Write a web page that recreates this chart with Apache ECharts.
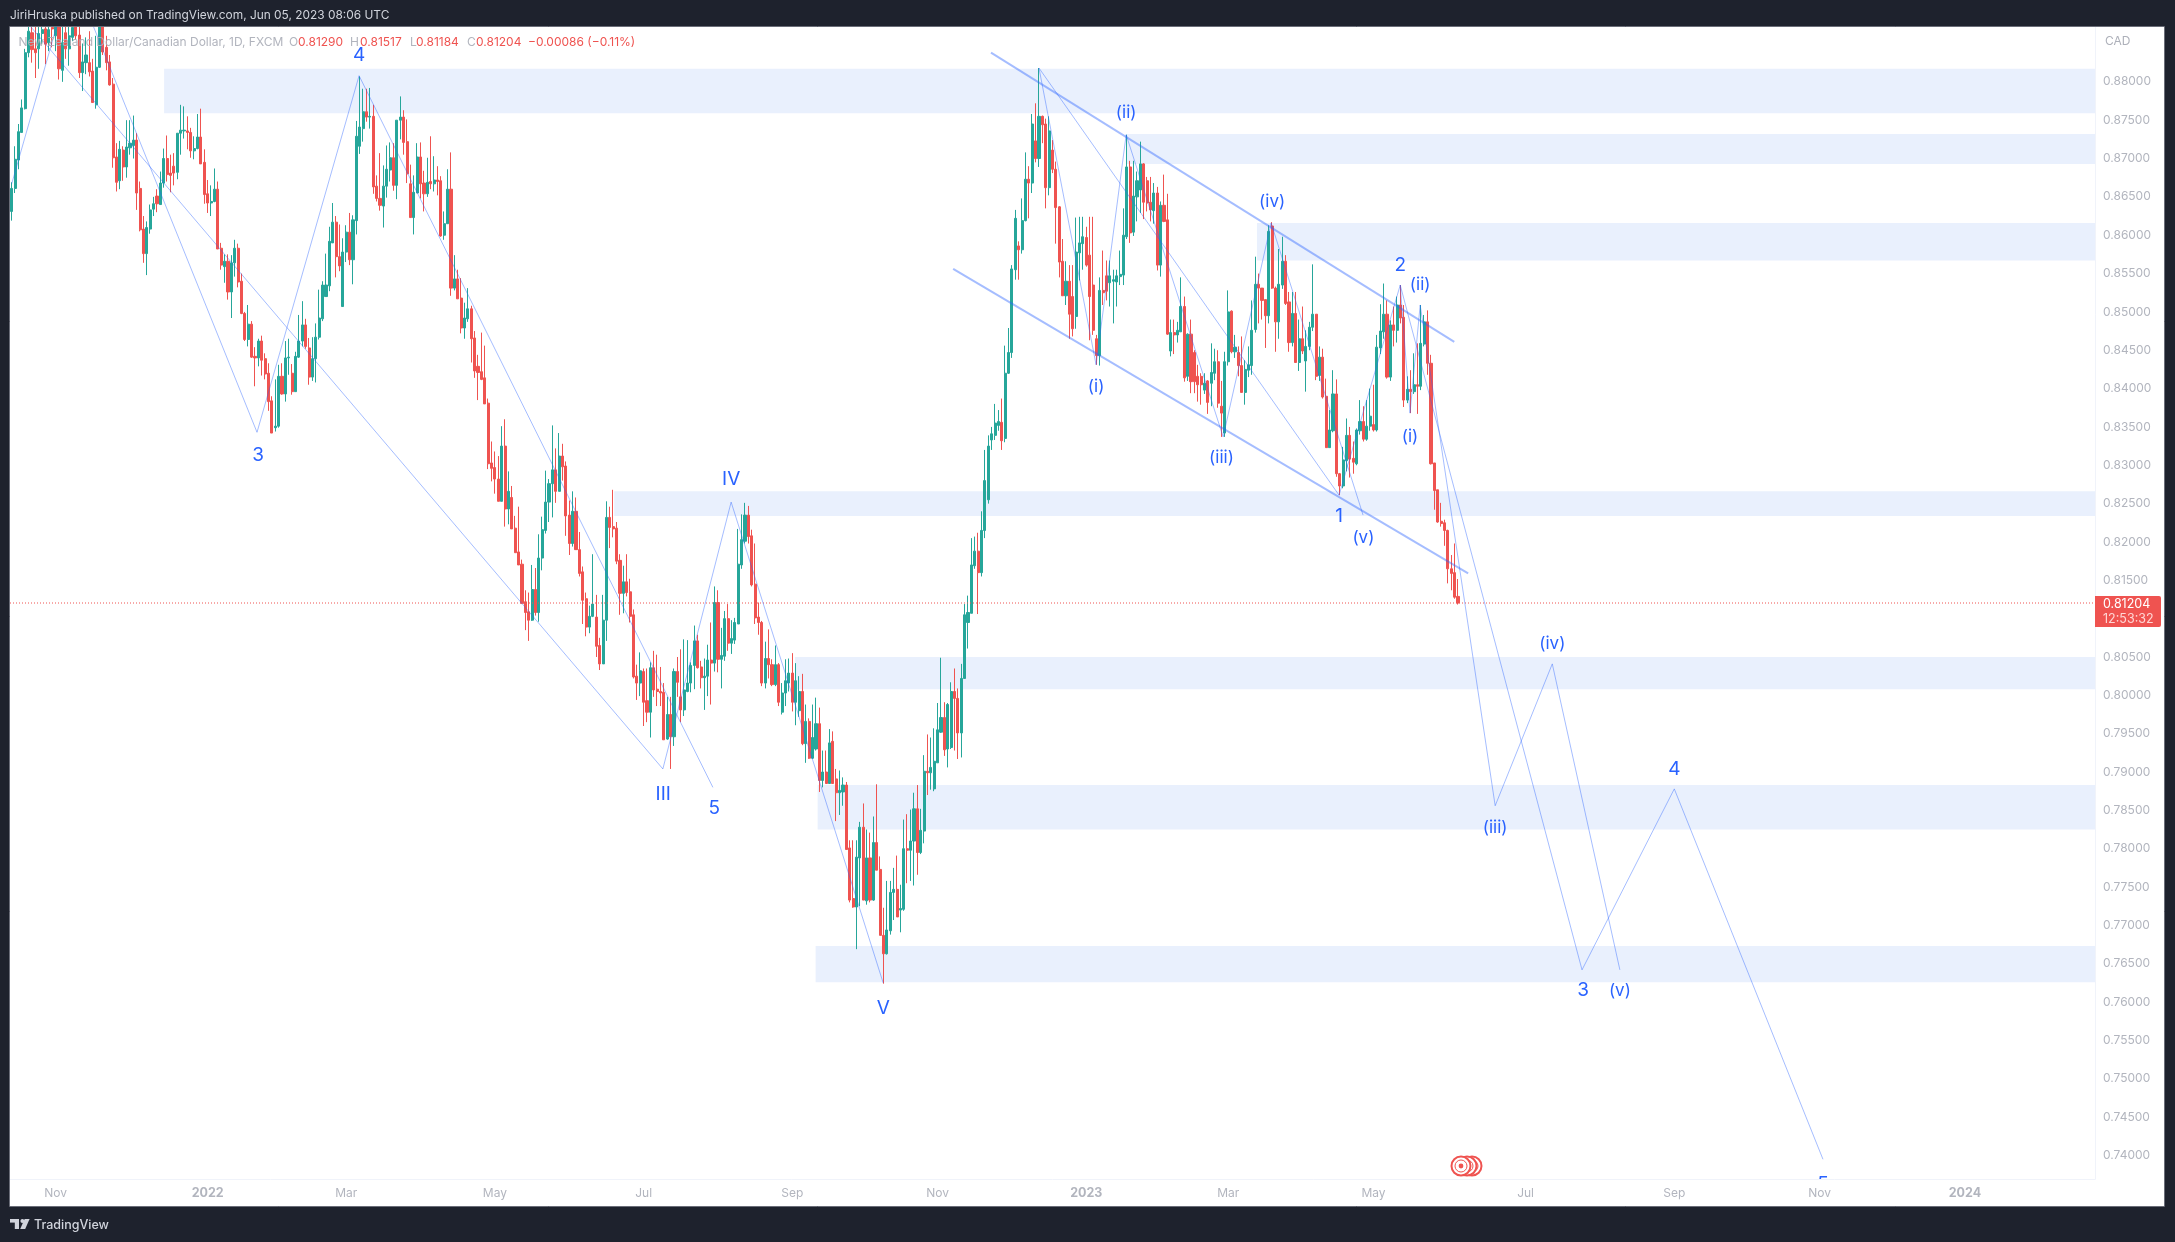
<!DOCTYPE html>
<html><head><meta charset="utf-8">
<style>html,body{margin:0;padding:0;background:#1e222d}#c{width:2175px;height:1242px}</style>
<script src="https://cdn.jsdelivr.net/npm/echarts@6/dist/echarts.min.js"></script>
</head><body><div id="c"></div>
<script>
// daily candles, oldest first: [open, high, low, close]
const ohlc = [
[.8631,.8669,.8619,.8661],[.8661,.8716,.8655,.8699],[.8698,.8745,.8686,.8735],[.8734,.8777,.8734,.8766],[.8765,.8843,.8764,.8838],
[.8838,.8880,.8832,.8866],[.8864,.8882,.8825,.8842],[.8843,.8875,.8805,.8838],[.8843,.8885,.8817,.8863],[.8863,.8878,.8849,.8868],
[.8869,.8882,.8823,.8849],[.8851,.8880,.8840,.8868],[.8871,.8885,.8845,.8869],[.8860,.8885,.8840,.8875],[.8878,.8885,.8803,.8817],
[.8815,.8875,.8800,.8851],[.8864,.8880,.8830,.8843],[.8843,.8880,.8821,.8860],[.8858,.8885,.8853,.8871],[.8875,.8885,.8855,.8860],
[.8861,.8880,.8805,.8812],[.8812,.8850,.8788,.8826],[.8825,.8858,.8810,.8835],[.8825,.8866,.8807,.8813],[.8814,.8830,.8773,.8773],
[.8770,.8860,.8765,.8819],[.8819,.8890,.8818,.8880],[.8880,.8890,.8835,.8839],[.8845,.8860,.8815,.8825],[.8826,.8835,.8795,.8796],
[.8797,.8805,.8688,.8701],[.8702,.8720,.8657,.8669],[.8671,.8723,.8660,.8712],[.8711,.8716,.8671,.8689],[.8689,.8750,.8675,.8715],
[.8714,.8750,.8705,.8720],[.8717,.8756,.8700,.8724],[.8724,.8733,.8633,.8655],[.8661,.8670,.8605,.8607],[.8608,.8625,.8564,.8576],
[.8576,.8618,.8548,.8610],[.8608,.8640,.8602,.8633],[.8634,.8650,.8625,.8641],[.8651,.8660,.8630,.8641],[.8640,.8683,.8640,.8668],
[.8668,.8713,.8662,.8700],[.8700,.8730,.8670,.8679],[.8681,.8705,.8656,.8678],[.8690,.8707,.8665,.8681],[.8682,.8733,.8673,.8733],
[.8733,.8770,.8705,.8737],[.8736,.8768,.8726,.8737],[.8736,.8755,.8712,.8734],[.8734,.8740,.8701,.8710],[.8710,.8729,.8699,.8713],
[.8713,.8758,.8712,.8728],[.8728,.8765,.8693,.8693],[.8695,.8712,.8641,.8653],[.8654,.8672,.8629,.8642],[.8642,.8665,.8625,.8644],
[.8644,.8687,.8643,.8660],[.8660,.8670,.8582,.8582],[.8583,.8590,.8555,.8561],[.8559,.8575,.8538,.8566],[.8566,.8575,.8516,.8526],
[.8526,.8574,.8492,.8564],[.8564,.8594,.8546,.8583],[.8583,.8589,.8532,.8539],[.8540,.8550,.8497,.8498],[.8498,.8500,.8462,.8464],
[.8464,.8509,.8455,.8484],[.8484,.8488,.8440,.8441],[.8442,.8454,.8403,.8440],[.8440,.8465,.8429,.8462],[.8462,.8469,.8417,.8437],
[.8439,.8446,.8412,.8419],[.8420,.8433,.8371,.8383],[.8384,.8390,.8342,.8342],[.8349,.8412,.8344,.8351],[.8351,.8431,.8349,.8416],
[.8416,.8433,.8392,.8393],[.8393,.8462,.8383,.8440],[.8440,.8465,.8418,.8441],[.8420,.8432,.8392,.8396],[.8396,.8448,.8396,.8442],
[.8441,.8496,.8440,.8462],[.8462,.8514,.8455,.8483],[.8483,.8491,.8452,.8455],[.8453,.8466,.8405,.8415],[.8415,.8467,.8410,.8439],
[.8439,.8485,.8408,.8467],[.8467,.8529,.8464,.8492],[.8491,.8540,.8488,.8535],[.8520,.8576,.8520,.8535],[.8534,.8611,.8527,.8592],
[.8590,.8642,.8590,.8617],[.8617,.8625,.8545,.8572],[.8572,.8614,.8553,.8560],[.8507,.8596,.8507,.8578],[.8578,.8613,.8565,.8604],
[.8604,.8629,.8561,.8568],[.8568,.8626,.8536,.8620],[.8619,.8749,.8601,.8729],[.8716,.8807,.8706,.8741],[.8739,.8791,.8722,.8761],
[.8761,.8791,.8748,.8754],[.8754,.8792,.8739,.8755],[.8755,.8770,.8654,.8663],[.8664,.8678,.8644,.8648],[.8648,.8707,.8632,.8639],
[.8638,.8691,.8610,.8664],[.8664,.8717,.8649,.8686],[.8685,.8721,.8670,.8701],[.8701,.8720,.8658,.8665],[.8665,.8750,.8647,.8750],
[.8750,.8781,.8725,.8754],[.8754,.8763,.8705,.8721],[.8722,.8751,.8668,.8680],[.8667,.8692,.8623,.8623],[.8623,.8678,.8601,.8656],
[.8655,.8720,.8655,.8702],[.8702,.8721,.8648,.8667],[.8668,.8684,.8631,.8654],[.8654,.8701,.8650,.8669],[.8670,.8729,.8660,.8667],
[.8667,.8703,.8657,.8672],[.8672,.8690,.8652,.8670],[.8671,.8677,.8598,.8599],[.8600,.8631,.8594,.8615],[.8615,.8686,.8615,.8660],
[.8660,.8708,.8521,.8531],[.8531,.8574,.8528,.8543],[.8543,.8555,.8517,.8517],[.8518,.8544,.8472,.8479],[.8479,.8512,.8465,.8492],
[.8491,.8531,.8487,.8504],[.8504,.8508,.8434,.8465],[.8466,.8475,.8414,.8423],[.8429,.8444,.8385,.8421],[.8422,.8473,.8411,.8412],
[.8414,.8456,.8380,.8380],[.8381,.8387,.8295,.8302],[.8303,.8331,.8279,.8296],[.8297,.8318,.8263,.8282],[.8282,.8312,.8253,.8253],
[.8253,.8351,.8253,.8325],[.8325,.8360,.8220,.8243],[.8243,.8292,.8223,.8266],[.8258,.8273,.8217,.8217],[.8218,.8234,.8186,.8186],
[.8187,.8246,.8170,.8170],[.8171,.8177,.8119,.8120],[.8122,.8137,.8085,.8108],[.8109,.8134,.8071,.8098],[.8098,.8170,.8097,.8138],
[.8138,.8166,.8104,.8108],[.8108,.8210,.8096,.8179],[.8179,.8233,.8163,.8216],[.8215,.8293,.8211,.8252],[.8252,.8282,.8226,.8276],
[.8276,.8352,.8232,.8294],[.8294,.8322,.8251,.8266],[.8266,.8342,.8266,.8312],[.8312,.8328,.8280,.8298],[.8299,.8305,.8208,.8234],
[.8235,.8254,.8183,.8198],[.8198,.8266,.8194,.8240],[.8240,.8258,.8190,.8190],[.8190,.8213,.8155,.8159],[.8161,.8168,.8093,.8124],
[.8126,.8134,.8077,.8089],[.8089,.8117,.8081,.8103],[.8103,.8184,.8102,.8119],[.8102,.8131,.8050,.8064],[.8065,.8075,.8033,.8041],
[.8041,.8131,.8041,.8098],[.8098,.8253,.8071,.8232],[.8232,.8246,.8192,.8219],[.8220,.8268,.8206,.8217],[.8218,.8226,.8171,.8175],
[.8176,.8184,.8105,.8133],[.8133,.8169,.8107,.8148],[.8148,.8184,.8129,.8134],[.8135,.8152,.8095,.8103],[.8105,.8112,.8022,.8024],
[.8025,.8040,.7994,.8016],[.8016,.8056,.7999,.8032],[.8031,.8035,.7960,.7991],[.7993,.8035,.7965,.7978],[.7978,.8043,.7945,.8036],
[.8036,.8058,.7998,.8007],[.8008,.8053,.7986,.8005],[.8005,.8037,.7986,.8003],[.8004,.8016,.7942,.7942],[.7943,.7998,.7942,.7975],
[.7975,.7998,.7904,.7946],[.7946,.8035,.7934,.8031],[.8031,.8050,.7998,.8017],[.7998,.8060,.7965,.7981],[.7981,.8073,.7973,.8007],
[.8005,.8072,.8004,.8016],[.8016,.8043,.8004,.8039],[.8039,.8091,.8008,.8071],[.8071,.8079,.8035,.8036],[.8037,.8045,.8009,.8023],
[.8023,.8048,.7981,.8025],[.8025,.8066,.7999,.8046],[.8046,.8095,.7988,.8042],[.8042,.8142,.8031,.8121],[.8121,.8137,.8030,.8047],
[.8047,.8088,.8009,.8052],[.8051,.8110,.8045,.8100],[.8100,.8119,.8058,.8068],[.8068,.8098,.8054,.8074],[.8072,.8101,.8067,.8095],
[.8093,.8217,.8093,.8171],[.8170,.8236,.8165,.8203],[.8201,.8251,.8198,.8235],[.8235,.8247,.8198,.8207],[.8208,.8216,.8142,.8144],
[.8145,.8198,.8093,.8101],[.8102,.8121,.8079,.8095],[.8095,.8097,.8012,.8016],[.8016,.8070,.8009,.8048],[.8048,.8086,.8022,.8040],
[.8040,.8047,.8012,.8014],[.8014,.8065,.8012,.8040],[.8040,.8042,.7986,.7991],[.7978,.8016,.7975,.8003],[.8003,.8047,.7986,.8019],
[.8016,.8048,.8005,.8029],[.8029,.8055,.7979,.7991],[.7991,.8042,.7961,.8019],[.7980,.8025,.7972,.8005],[.8005,.8028,.7935,.7937],
[.7937,.7988,.7912,.7966],[.7966,.7970,.7917,.7918],[.7918,.7988,.7917,.7945],[.7930,.7997,.7928,.7963],[.7963,.7984,.7874,.7889],
[.7889,.7928,.7880,.7900],[.7900,.7928,.7885,.7885],[.7885,.7956,.7885,.7938],[.7940,.7953,.7885,.7885],[.7891,.7904,.7836,.7873],
[.7873,.7902,.7844,.7876],[.7874,.7893,.7856,.7883],[.7883,.7887,.7799,.7799],[.7801,.7811,.7730,.7733],[.7735,.7811,.7723,.7724],
[.7724,.7811,.7669,.7789],[.7788,.7835,.7725,.7828],[.7828,.7859,.7733,.7733],[.7732,.7825,.7727,.7788],[.7788,.7821,.7730,.7733],
[.7733,.7842,.7732,.7808],[.7808,.7884,.7772,.7772],[.7773,.7790,.7687,.7687],[.7687,.7723,.7624,.7663],[.7663,.7758,.7662,.7694],
[.7693,.7758,.7688,.7743],[.7743,.7775,.7707,.7747],[.7747,.7791,.7711,.7711],[.7720,.7753,.7691,.7722],[.7721,.7838,.7719,.7800],
[.7800,.7845,.7755,.7798],[.7798,.7851,.7758,.7810],[.7810,.7873,.7752,.7852],[.7852,.7883,.7766,.7795],[.7795,.7852,.7793,.7824],
[.7823,.7922,.7807,.7901],[.7901,.7949,.7870,.7899],[.7899,.7945,.7877,.7906],[.7878,.7957,.7875,.7914],[.7912,.7990,.7912,.7955],
[.7952,.8049,.7951,.7971],[.7971,.7991,.7921,.7929],[.7930,.7990,.7906,.7988],[.7932,.8017,.7930,.8005],[.8005,.8035,.7928,.7996],
[.7996,.8009,.7917,.7951],[.7951,.8041,.7919,.8022],[.8022,.8119,.8022,.8105],[.8095,.8130,.8061,.8108],[.8107,.8205,.8107,.8170],
[.8169,.8207,.8165,.8188],[.8188,.8212,.8106,.8160],[.8160,.8240,.8155,.8215],[.8215,.8320,.8205,.8280],[.8255,.8339,.8250,.8325],
[.8333,.8350,.8320,.8341],[.8339,.8380,.8333,.8355],[.8352,.8372,.8345,.8357],[.8356,.8387,.8320,.8332],[.8335,.8456,.8330,.8420],
[.8420,.8479,.8419,.8447],[.8447,.8561,.8440,.8556],[.8555,.8633,.8542,.8622],[.8586,.8592,.8542,.8581],[.8581,.8648,.8576,.8619],
[.8619,.8708,.8618,.8673],[.8673,.8690,.8622,.8668],[.8668,.8758,.8655,.8745],[.8723,.8772,.8695,.8700],[.8700,.8818,.8689,.8755],
[.8755,.8756,.8720,.8744],[.8745,.8752,.8635,.8662],[.8662,.8755,.8652,.8736],[.8711,.8724,.8681,.8686],[.8686,.8696,.8589,.8636],
[.8637,.8638,.8545,.8565],[.8566,.8595,.8521,.8521],[.8521,.8566,.8509,.8540],[.8540,.8561,.8465,.8497],[.8520,.8561,.8468,.8478],
[.8494,.8623,.8478,.8578],[.8577,.8624,.8541,.8590],[.8589,.8624,.8555,.8598],[.8597,.8611,.8559,.8561],[.8574,.8624,.8463,.8520],
[.8535,.8624,.8470,.8476],[.8465,.8470,.8431,.8443],[.8443,.8545,.8430,.8528],[.8528,.8580,.8509,.8525],[.8547,.8567,.8515,.8527],
[.8538,.8567,.8507,.8547],[.8540,.8555,.8485,.8542],[.8539,.8555,.8507,.8547],[.8546,.8580,.8535,.8549],[.8548,.8635,.8535,.8600],
[.8598,.8731,.8595,.8689],[.8689,.8697,.8590,.8603],[.8604,.8697,.8599,.8651],[.8650,.8683,.8618,.8671],[.8659,.8722,.8629,.8693],
[.8693,.8694,.8621,.8643],[.8671,.8676,.8631,.8642],[.8643,.8676,.8618,.8633],[.8632,.8668,.8615,.8655],[.8655,.8663,.8554,.8561],
[.8561,.8644,.8546,.8639],[.8639,.8679,.8617,.8618],[.8620,.8654,.8470,.8471],[.8449,.8490,.8442,.8473],[.8473,.8490,.8445,.8470],
[.8470,.8487,.8460,.8476],[.8474,.8545,.8474,.8507],[.8507,.8520,.8409,.8414],[.8416,.8472,.8410,.8471],[.8471,.8490,.8394,.8409],
[.8447,.8450,.8394,.8409],[.8416,.8431,.8383,.8405],[.8416,.8420,.8379,.8405],[.8398,.8420,.8393,.8407],[.8410,.8411,.8367,.8382],
[.8407,.8459,.8377,.8421],[.8420,.8452,.8411,.8435],[.8435,.8450,.8375,.8381],[.8377,.8410,.8337,.8368],[.8342,.8448,.8337,.8435],
[.8435,.8528,.8430,.8500],[.8501,.8502,.8446,.8448],[.8448,.8470,.8440,.8454],[.8447,.8455,.8416,.8430],[.8430,.8468,.8395,.8395],
[.8395,.8437,.8379,.8425],[.8424,.8455,.8415,.8431],[.8430,.8515,.8418,.8476],[.8477,.8572,.8473,.8536],[.8536,.8550,.8485,.8531],
[.8531,.8531,.8490,.8515],[.8516,.8516,.8453,.8495],[.8495,.8613,.8485,.8605],[.8612,.8617,.8530,.8531],[.8531,.8533,.8448,.8487],
[.8487,.8582,.8465,.8536],[.8535,.8598,.8530,.8566],[.8566,.8574,.8509,.8511],[.8513,.8526,.8448,.8460],[.8460,.8526,.8455,.8498],
[.8498,.8526,.8434,.8434],[.8434,.8490,.8423,.8465],[.8465,.8507,.8445,.8449],[.8436,.8476,.8396,.8455],[.8455,.8487,.8450,.8480],
[.8480,.8562,.8475,.8497],[.8497,.8497,.8411,.8416],[.8417,.8455,.8410,.8441],[.8441,.8452,.8387,.8389],[.8390,.8413,.8323,.8323],
[.8323,.8372,.8323,.8346],[.8345,.8424,.8343,.8393],[.8393,.8412,.8285,.8289],[.8289,.8290,.8261,.8273],[.8273,.8324,.8270,.8307],
[.8306,.8361,.8292,.8339],[.8339,.8350,.8284,.8308],[.8309,.8331,.8289,.8304],[.8302,.8348,.8300,.8346],[.8345,.8385,.8340,.8357],
[.8357,.8377,.8331,.8334],[.8334,.8385,.8332,.8351],[.8351,.8400,.8345,.8364],[.8353,.8405,.8344,.8346],[.8346,.8470,.8344,.8454],
[.8453,.8510,.8445,.8475],[.8474,.8537,.8465,.8497],[.8497,.8515,.8413,.8415],[.8415,.8489,.8410,.8483],[.8483,.8507,.8455,.8476],
[.8476,.8520,.8460,.8509],[.8509,.8535,.8485,.8492],[.8493,.8509,.8376,.8385],[.8385,.8416,.8381,.8399],[.8399,.8424,.8368,.8396],
[.8396,.8446,.8393,.8405],[.8405,.8459,.8367,.8403],[.8403,.8509,.8398,.8459],[.8458,.8496,.8455,.8487],[.8487,.8502,.8418,.8433],
[.8433,.8444,.8301,.8302],[.8303,.8303,.8242,.8267],[.8268,.8268,.8225,.8226],[.8227,.8251,.8220,.8224],[.8225,.8229,.8195,.8215],
[.8215,.8216,.8146,.8165],[.8165,.8183,.8137,.8159],[.8160,.8198,.8126,.8128],[.81290,.81517,.81184,.81204]
];
const lastClose = 0.81204;

// horizontal supply/demand zones: [first bar index, top price, bottom price]
const zones = [
[45.1,.8817,.8759],[329.8,.8732,.8693],[368.5,.8616,.8567],[178.3,.8266,.8234],
[231.8,.8050,.8008],[238.5,.7883,.7825],[237.9,.7673,.7626]
];

// Elliott wave paths as [bar index, price]
const waveMajor = [[0,.8667],[17.8,.8942],[72.6,.8343],[102.8,.8808],[207.5,.7880]];
const waveRoman = [[0,.8901],[192.7,.7904],[212.9,.8252],[257.9,.7625]];
const waveMinor = [[304,.8818],[320.9,.8431],[329.8,.8731],[358.5,.8337],[372.7,.8616],[399.9,.8235]];
const waveFromTop = [[304,.8818],[392.8,.8261]];
const waveForecast = [[392.8,.8261],[410.9,.8535],[464.7,.7642],[492,.7878],[536,.7395]];
const waveForecastMinor = [[410.9,.8535],[413.8,.8368],[416.8,.8509],[439,.7856],[455.9,.8041],[475.9,.7642]];
const channelUpper = [[289.8,.8838],[426.9,.8461]];
const channelLower = [[278.6,.8556],[431,.8159]];

// wave labels: [bar index, price, text, size]
const waveLabels = [
[102.8,.8834,'4',19],[72.9,.8313,'3',19],[192.8,.7871,'III',19],[207.9,.7853,'5',19],[212.9,.8282,'IV',19],[257.9,.7592,'V',19],
[320.9,.8402,'(i)',17],[329.8,.8759,'(ii)',17],[358,.8310,'(iii)',17],[373,.8643,'(iv)',17],[392.8,.8233,'1',19],[400,.8205,'(v)',17],
[410.9,.8561,'2',19],[416.8,.8535,'(ii)',17],[413.8,.8337,'(i)',17],[439,.7827,'(iii)',17],[455.9,.8067,'(iv)',17],[465,.7615,'3',19],
[475.9,.7615,'(v)',17],[492,.7903,'4',19],[536,.7363,'5',19]
];

const yTicks = [.74,.745,.75,.755,.76,.765,.77,.775,.78,.785,.79,.795,.80,.805,.81,.815,.82,.825,.83,.835,.84,.845,.85,.855,.86,.865,.87,.875,.88];
const xTickDates = ['2021-11-01','2022-01-03','2022-03-01','2022-05-02','2022-07-01','2022-09-01','2022-11-01','2023-01-02','2023-03-01','2023-05-01','2023-07-03','2023-09-01','2023-11-01','2024-01-01'];
const xTickLabels = ['Nov','2022','Mar','May','Jul','Sep','Nov','2023','Mar','May','Jul','Sep','Nov','2024'];
const legendItems = [
['New Zealand Dollar/Canadian Dollar, 1D, FXCM',18.5,'g'],['O',289,'g'],['0.81290',298,'r'],['H',350,'g'],['0.81517',360,'r'],
['L',410,'g'],['0.81184',416,'r'],['C',467,'g'],['0.81204',476,'r'],['\u22120.00086 (\u22120.11%)',528,'r']
];

const BAR_COUNT = 617;
const categories = [];
for (let t = Date.UTC(2021,9,13); categories.length < BAR_COUNT; t += 864e5) {
  const d = new Date(t).getUTCDay();
  if (d !== 0 && d !== 6) categories.push(new Date(t).toISOString().slice(0,10));
}
const DARK = '#1e222d', FONT = 'Inter, "Liberation Sans", sans-serif';
const UP = '#26a69a', DOWN = '#ef5350', BLUE = '#2962ff';
const thin = {color:'rgba(41,98,255,0.42)',width:1};
const thick = {color:'rgba(41,98,255,0.42)',width:2};
const lineSeries = (data, style) => ({type:'line',xAxisIndex:1,data,showSymbol:false,silent:true,lineStyle:style,z:4,animation:false});
const txt = (text,x,y,size,fill,extra) => ({type:'text',z:102,silent:true,style:Object.assign({text,x,y,fontSize:size,fill,fontFamily:FONT,verticalAlign:'middle'},extra||{})});
const rect = (x,y,w,h,fill) => ({type:'rect',z:100,silent:true,shape:{x,y,width:w,height:h},style:{fill}});
const LOGO = '#d1d4dc', GRAY = '#adb0b9';

const graphicEls = [
  rect(0,0,2175,27,DARK), rect(0,1206,2175,36,DARK), rect(0,0,10,1242,DARK), rect(2164,0,11,1242,DARK),
  {type:'rect',z:101,silent:true,shape:{x:9.5,y:26.5,width:2155,height:1180},style:{fill:'none',stroke:'#6a6d78',lineWidth:1}},
  txt('JiriHruska published on TradingView.com, Jun 05, 2023 08:06 UTC',10,15,11.9,LOGO),
  txt('CAD',2105,41,12,GRAY),
  {type:'rect',z:101,silent:true,shape:{x:2095,y:596,width:66,height:31,r:[0,2,2,0]},style:{fill:DOWN}},
  txt('0.81204',2103,604,12.5,'#ffffff'),
  txt('12:53:32',2103,619,12.5,'#ffd6d4'),
  {type:'rect',z:102,silent:true,shape:{x:10,y:1219,width:9,height:3.6},style:{fill:LOGO}},
  {type:'rect',z:102,silent:true,shape:{x:14.8,y:1219,width:4.2,height:10},style:{fill:LOGO}},
  {type:'circle',z:102,silent:true,shape:{cx:22.4,cy:1221,r:2},style:{fill:LOGO}},
  {type:'polygon',z:102,silent:true,shape:{points:[[24.6,1219],[29.6,1219],[25.2,1229],[20.2,1229]]},style:{fill:LOGO}},
  txt('TradingView',34,1225,12.5,LOGO,{fontWeight:500})
];
legendItems.forEach(([t,x,k]) => graphicEls.push(txt(t,x,42.5,12,k==='r'?DOWN:GRAY,{opacity:k==='r'?1:0.95})));
[1472,1467,1461].forEach(x => {
  graphicEls.push({type:'circle',z:6,silent:true,shape:{cx:x,cy:1166,r:9.5},style:{fill:'#fff',stroke:DOWN,lineWidth:2}});
  graphicEls.push({type:'circle',z:6,silent:true,shape:{cx:x,cy:1166,r:6},style:{fill:'#fff',stroke:DOWN,lineWidth:1}});
  graphicEls.push({type:'circle',z:6,silent:true,shape:{cx:x,cy:1166,r:2.4},style:{fill:DOWN}});
});

const chart = echarts.init(document.getElementById('c'), null, {renderer:'canvas',width:2175,height:1242});
chart.setOption({
  animation:false,
  backgroundColor:'#ffffff',
  grid:{left:10,right:80,top:27,height:1152,containLabel:false},
  xAxis:[
    {type:'category',data:categories,boundaryGap:true,
     axisLine:{show:true,lineStyle:{color:'#f0f3fa'}},axisTick:{show:false},splitLine:{show:false},
     axisLabel:{color:'#b2b5be',fontSize:12,fontFamily:FONT,margin:8,
       interval:(i,v)=>xTickDates.includes(v),
       formatter:v=>{const l=xTickLabels[xTickDates.indexOf(v)];return /^\d/.test(l)?'{y|'+l+'}':l;},
       rich:{y:{fontWeight:'bold',fontSize:12.5,color:'#b2b5be',fontFamily:FONT}}}},
    {type:'value',min:-0.5,max:BAR_COUNT-0.5,show:false,splitLine:{show:false}}
  ],
  yAxis:{type:'value',position:'right',min:0.73693,max:0.88715,scale:true,
    axisLine:{show:true,onZero:false,lineStyle:{color:'#f0f3fa'}},axisTick:{show:false},splitLine:{show:false},
    axisLabel:{color:'#b2b5be',fontSize:12,fontFamily:FONT,margin:8,align:'left',customValues:yTicks,formatter:v=>v.toFixed(5),showMinLabel:true,showMaxLabel:true}},
  graphic:graphicEls,
  series:[
    {type:'custom',xAxisIndex:1,z:1,silent:true,data:zones,encode:{x:0,y:[1,2]},clip:true,
     renderItem:(p,api)=>{
       const a=api.coord([api.value(0),api.value(1)]), b=api.coord([api.value(0),api.value(2)]);
       const right=p.coordSys.x+p.coordSys.width;
       return {type:'rect',shape:{x:a[0],y:a[1],width:right-a[0],height:b[1]-a[1]},style:{fill:'#e9f0fd'}};
     }},
    {type:'candlestick',xAxisIndex:0,z:2,silent:true,barWidth:2.6,data:ohlc.map(([o,h,l,c])=>[o,c,l,h]),
     itemStyle:{color:UP,color0:DOWN,borderColor:UP,borderColor0:DOWN,borderWidth:1}},
    lineSeries([[-0.5,lastClose],[BAR_COUNT-0.5,lastClose]],{color:DOWN,width:1,type:[1,2]}),
    lineSeries(waveMajor,thin),lineSeries(waveRoman,thin),lineSeries(waveMinor,thin),lineSeries(waveFromTop,thin),
    lineSeries(waveForecast,thin),lineSeries(waveForecastMinor,thin),lineSeries(channelUpper,thick),lineSeries(channelLower,thick),
    {type:'custom',xAxisIndex:1,z:5,silent:true,clip:true,data:waveLabels.map(r=>[r[0],r[1]]),encode:{x:0,y:1},
     renderItem:(p,api)=>{
       const a=api.coord([api.value(0),api.value(1)]), r=waveLabels[p.dataIndex];
       return {type:'text',style:{text:r[2],x:a[0],y:a[1],align:'center',verticalAlign:'middle',fontSize:r[3],fill:BLUE,fontFamily:FONT}};
     }}
  ]
});
</script></body></html>
